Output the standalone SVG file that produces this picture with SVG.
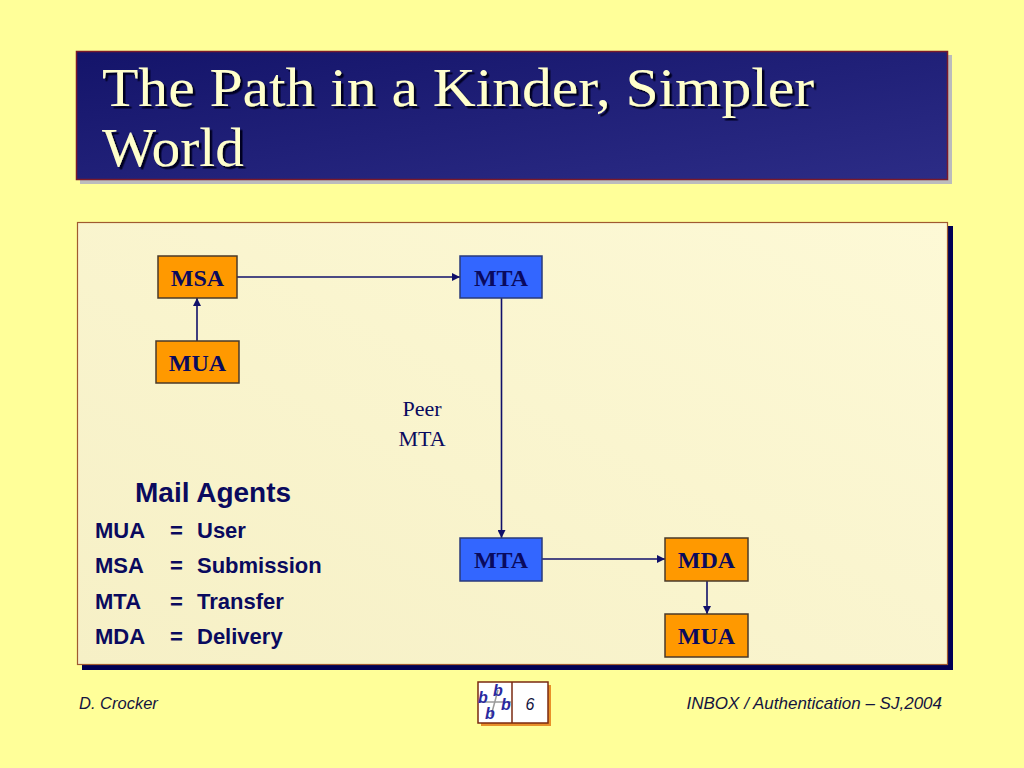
<svg xmlns="http://www.w3.org/2000/svg" width="1024" height="768" viewBox="0 0 1024 768">
<defs>
<linearGradient id="titleGrad" x1="0" y1="0" x2="1" y2="1">
<stop offset="0" stop-color="#14146a"/>
<stop offset="1" stop-color="#2c2c86"/>
</linearGradient>
<linearGradient id="panelGrad" x1="1" y1="0" x2="0" y2="1">
<stop offset="0" stop-color="#fdf9d6"/>
<stop offset="1" stop-color="#f6f0c6"/>
</linearGradient>
<filter id="tshadow" x="-5%" y="-20%" width="110%" height="140%">
<feDropShadow dx="2.5" dy="2.5" stdDeviation="0.6" flood-color="#000020" flood-opacity="1"/>
</filter>
<marker id="arrow" viewBox="0 0 10 10" refX="10" refY="5" markerWidth="11" markerHeight="8" markerUnits="userSpaceOnUse" orient="auto">
<path d="M0,0 L10,5 L0,10 Z" fill="#10106a"/>
</marker>
<style>
.node-o { fill: #ff9900; stroke: #4a3a2a; stroke-width: 1.5; }
.node-b { fill: #3366ff; stroke: #2a3a7a; stroke-width: 1.5; }
.lbl { font-family: "Liberation Serif", "Times New Roman", serif; font-weight: bold; font-size: 24px; fill: #0a0a5e; text-anchor: middle; }
.conn { stroke: #10106a; stroke-width: 1.6; fill: none; marker-end: url(#arrow); }
.legend { font-family: "Liberation Sans", Arial, sans-serif; font-weight: bold; font-size: 22px; fill: #0a0a5e; }
.foot { font-family: "Liberation Sans", Arial, sans-serif; font-style: italic; font-size: 16.5px; fill: #141440; }
.peer { font-family: "Liberation Serif", "Times New Roman", serif; font-size: 22px; fill: #0a0a5e; text-anchor: middle; }
.bb { font-family: "Liberation Sans", Arial, sans-serif; font-style: italic; font-weight: bold; font-size: 16px; fill: #2a2aa0; }
.ttl { font-family: "Liberation Serif", "Times New Roman", serif; font-size: 55px; fill: #ffffcc; }
</style>
</defs>

<rect x="0" y="0" width="1024" height="768" fill="#ffff99"/>

<g id="title">
<rect x="80" y="55" width="872" height="129" fill="#bcbcbc"/>
<rect x="76.5" y="51.5" width="871" height="128" fill="url(#titleGrad)" stroke="#7a1a2a" stroke-width="1.5"/>
<g filter="url(#tshadow)">
<text class="ttl" x="102" y="105.5" textLength="712" lengthAdjust="spacingAndGlyphs">The Path in a Kinder, Simpler</text>
<text class="ttl" x="102" y="166" textLength="142" lengthAdjust="spacingAndGlyphs">World</text>
</g>
</g>

<g id="panel">
<rect x="82" y="226" width="871" height="444" fill="#000055"/>
<rect x="77.5" y="222.5" width="870" height="442" fill="url(#panelGrad)" stroke="#a05a30" stroke-width="1.2"/>
</g>

<g id="connectors">
<line class="conn" x1="197" y1="341" x2="197" y2="298"/>
<line class="conn" x1="237" y1="277" x2="460" y2="277"/>
<line class="conn" x1="501.5" y1="298" x2="501.5" y2="538"/>
<line class="conn" x1="542" y1="559" x2="665" y2="559"/>
<line class="conn" x1="707" y1="581" x2="707" y2="614"/>
</g>

<g id="msa">
<rect class="node-o" x="158" y="256" width="79" height="42"/>
<text class="lbl" x="197.5" y="286">MSA</text>
</g>
<g id="mua-top">
<rect class="node-o" x="156" y="341" width="83" height="42"/>
<text class="lbl" x="197.5" y="371">MUA</text>
</g>
<g id="mta-top">
<rect class="node-b" x="460" y="256" width="82" height="42"/>
<text class="lbl" x="501" y="286">MTA</text>
</g>
<g id="mta-bottom">
<rect class="node-b" x="460" y="538" width="82" height="43"/>
<text class="lbl" x="501" y="568">MTA</text>
</g>
<g id="mda">
<rect class="node-o" x="665" y="538" width="83" height="43"/>
<text class="lbl" x="706.5" y="568">MDA</text>
</g>
<g id="mua-bottom">
<rect class="node-o" x="665" y="614" width="83" height="43"/>
<text class="lbl" x="706.5" y="644">MUA</text>
</g>

<g id="peer-label">
<text class="peer" x="422" y="416">Peer</text>
<text class="peer" x="422" y="446">MTA</text>
</g>

<g id="legend">
<text class="legend" x="135" y="502" style="font-size:28px">Mail Agents</text>
<text class="legend" x="95" y="538">MUA</text>
<text class="legend" x="170" y="538">=</text>
<text class="legend" x="197" y="538">User</text>
<text class="legend" x="95" y="573">MSA</text>
<text class="legend" x="170" y="573">=</text>
<text class="legend" x="197" y="573">Submission</text>
<text class="legend" x="95" y="609">MTA</text>
<text class="legend" x="170" y="609">=</text>
<text class="legend" x="197" y="609">Transfer</text>
<text class="legend" x="95" y="644">MDA</text>
<text class="legend" x="170" y="644">=</text>
<text class="legend" x="197" y="644">Delivery</text>
</g>

<g id="footer">
<text class="foot" x="79" y="709">D. Crocker</text>
<text class="foot" x="942" y="709" text-anchor="end" style="font-size:17px">INBOX / Authentication – SJ,2004</text>
</g>

<g id="logo">
<rect x="481" y="685" width="70" height="41" fill="#e8902a"/>
<rect x="478" y="682" width="70" height="41" fill="#ffffff" stroke="#7a2a10" stroke-width="1.5"/>
<line x1="512" y1="682" x2="512" y2="723" stroke="#7a2a10" stroke-width="1.5"/>
<line x1="479" y1="702" x2="511" y2="702" stroke="#9a9a9a" stroke-width="1.5"/>
<line x1="498" y1="690" x2="491" y2="716" stroke="#9a9a9a" stroke-width="1.5"/>
<text class="bb" x="478" y="703">b</text>
<text class="bb" x="493" y="696">b</text>
<text class="bb" x="501" y="710">b</text>
<text class="bb" x="485" y="719">b</text>
<text x="530" y="710" font-family="'Liberation Sans', Arial, sans-serif" font-style="italic" font-size="16" fill="#141440" text-anchor="middle">6</text>
</g>
</svg>
